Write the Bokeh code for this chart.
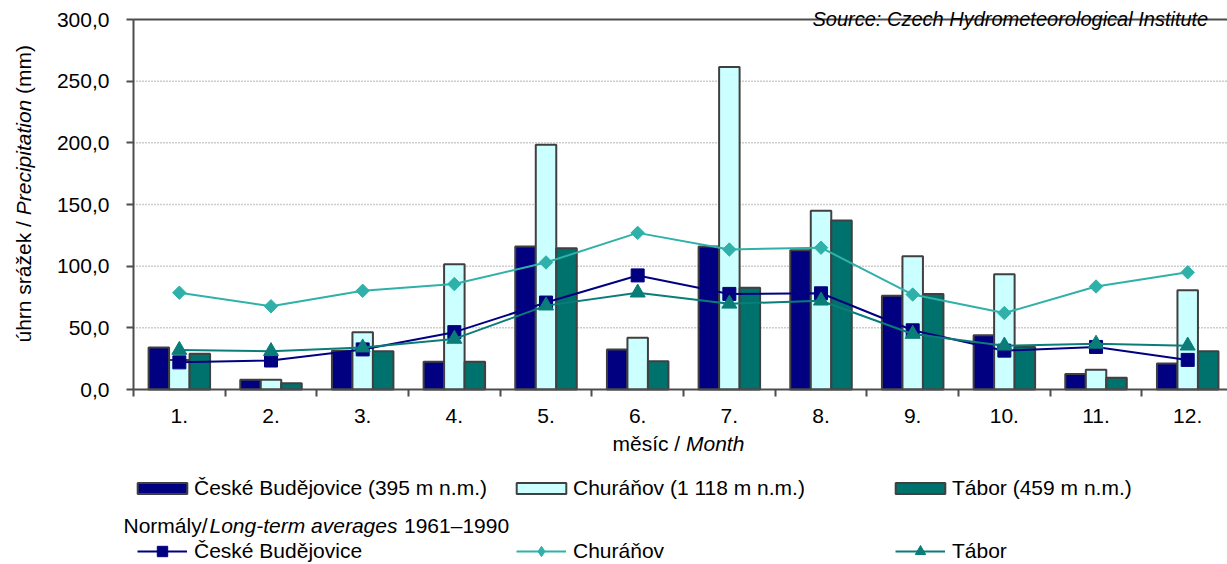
import math
from bokeh.plotting import figure
from bokeh.models import (Range1d, FixedTicker, Legend, LegendItem, Label, ColumnDataSource)
from bokeh.transform import dodge
from bokeh.embed import file_html
from bokeh.resources import INLINE

# ---------------- data ----------------
months = [1, 2, 3, 4, 5, 6, 7, 8, 9, 10, 11, 12]
month_labels = ["1.", "2.", "3.", "4.", "5.", "6.", "7.", "8.", "9.", "10.", "11.", "12."]
y_ticks = [0, 50, 100, 150, 200, 250, 300]
y_tick_labels = ["0,0", "50,0", "100,0", "150,0", "200,0", "250,0", "300,0"]

# monthly precipitation (mm) - bars
budejovice = [34, 8, 31.5, 22.5, 116, 32.5, 116, 113, 76, 44, 12.5, 21]
churanov = [24, 8, 46.5, 101.5, 198.5, 42, 261.5, 145, 108, 93.5, 16, 80.5]
tabor = [29, 5, 31, 22.5, 114.5, 23, 82.5, 137, 77.5, 34.5, 9.5, 31]

# long-term averages 1961-1990 - lines
budejovice_norm = [22, 23.5, 32.5, 46.5, 70.5, 92.5, 77.5, 78, 48, 31.5, 34.5, 24]
churanov_norm = [78.5, 67.5, 80, 85.5, 103, 127, 113.5, 115, 77, 62, 83.5, 95]
tabor_norm = [32, 31, 34, 41, 68, 78.5, 69.5, 72, 45, 35.5, 37, 35.5]

bar_names = ["České Budějovice (395 m n.m.)", "Churáňov (1 118 m n.m.)", "Tábor (459 m n.m.)"]
line_names = ["České Budějovice", "Churáňov", "Tábor"]

# ---------------- styles / layout ----------------
FONT = "Liberation Sans"
FS = "21px"
C_CB = "#000080"
C_CH_BAR = "#CCFFFF"
C_TA_BAR = "#00726D"
C_CH_LINE = "#2FB1A9"
C_TA_LINE = "#0A7D78"
EDGE = "#404040"
AXIS = "#4d4d4d"

W, H = 1227, 564
PLOT_L, PLOT_T, PLOT_B = 133, 19, 389      # plot area in page pixels
CAT_PX = 91.67                              # pixels per month
Y_PX = (PLOT_B - PLOT_T) / 300.0            # pixels per mm
x_start = 0.5 - PLOT_L / CAT_PX
x_end = 0.5 + (W - PLOT_L) / CAT_PX
y_start = -(H - PLOT_B) / Y_PX
y_end = 300 + PLOT_T / Y_PX


def dx(px):
    return 0.5 + (px - PLOT_L) / CAT_PX


def dy(py):
    return (PLOT_B - py) / Y_PX


p = figure(width=W, height=H, x_range=Range1d(x_start, x_end), y_range=Range1d(y_start, y_end),
           output_backend="svg", toolbar_location=None,
           min_border_left=0, min_border_right=0, min_border_top=0, min_border_bottom=0,
           outline_line_color=None, background_fill_color="white", border_fill_color="white")

# axes pinned to the plot area
p.xaxis.fixed_location = 0
p.xaxis.bounds = (0.5, x_end)
p.xaxis.ticker = FixedTicker(ticks=months, minor_ticks=[m + 0.5 for m in range(0, 13)])
p.xaxis.major_label_overrides = {m: lab for m, lab in zip(months, month_labels)}
p.xaxis.major_tick_out = 0
p.xaxis.major_tick_in = 0
p.xaxis.minor_tick_out = 7
p.xaxis.minor_tick_in = 0
p.xaxis.minor_tick_line_color = AXIS
p.xaxis.minor_tick_line_width = 2
p.xaxis.axis_line_color = AXIS
p.xaxis.axis_line_width = 2
p.xaxis.major_label_standoff = 12

p.yaxis.fixed_location = 0.5
p.yaxis.bounds = (0, 300)
p.yaxis.ticker = FixedTicker(ticks=y_ticks)
p.yaxis.major_label_overrides = {t: lab for t, lab in zip(y_ticks, y_tick_labels)}
p.yaxis.major_tick_out = 7
p.yaxis.major_tick_in = 0
p.yaxis.major_tick_line_color = AXIS
p.yaxis.major_tick_line_width = 2
p.yaxis.minor_tick_line_color = None
p.yaxis.axis_line_color = AXIS
p.yaxis.axis_line_width = 2
p.yaxis.major_label_standoff = 17

for ax in (p.xaxis, p.yaxis):
    ax.major_label_text_font = FONT
    ax.major_label_text_font_size = FS
    ax.major_label_text_color = "black"

p.xgrid.visible = False
p.ygrid.visible = False

# dotted gridlines and the solid top border of the plot area
grid_src = ColumnDataSource(dict(y=y_ticks[1:-1]))
p.segment(x0=0.5, x1=x_end, y0="y", y1="y", source=grid_src,
          line_color="#9a9a9a", line_dash="1 2", line_width=1.5)
p.segment(x0=[0.5], x1=[x_end], y0=[y_ticks[-1]], y1=[y_ticks[-1]],
          line_color=AXIS, line_width=2)

# bars
src = ColumnDataSource(dict(month=months, cb=budejovice, ch=churanov, ta=tabor,
                            cbn=budejovice_norm, chn=churanov_norm, tan=tabor_norm))
bw = 0.2236
r_cb = p.vbar(x=dodge("month", -bw, range=p.x_range), top="cb", width=bw, source=src,
              fill_color=C_CB, line_color=EDGE, line_width=2)
r_ch = p.vbar(x="month", top="ch", width=bw, source=src,
              fill_color=C_CH_BAR, line_color=EDGE, line_width=2)
r_ta = p.vbar(x=dodge("month", bw, range=p.x_range), top="ta", width=bw, source=src,
              fill_color=C_TA_BAR, line_color=EDGE, line_width=2)

# lines of long-term averages
l_ch = p.line("month", "chn", source=src, line_color=C_CH_LINE, line_width=2)
m_ch = p.scatter("month", "chn", source=src, marker="square", angle=math.pi / 4, size=9.5,
                 fill_color=C_CH_LINE, line_color=C_CH_LINE)
l_cb = p.line("month", "cbn", source=src, line_color=C_CB, line_width=2)
m_cb = p.scatter("month", "cbn", source=src, marker="square", size=13,
                 fill_color=C_CB, line_color=C_CB)
l_ta = p.line("month", "tan", source=src, line_color=C_TA_LINE, line_width=2)
m_ta = p.scatter("month", "tan", source=src, marker="triangle", size=15,
                 fill_color=C_TA_LINE, line_color=C_TA_LINE)
# legend-only diamond (kept outside the visible range)
m_ch_leg = p.scatter(x=[-10], y=[-1000], marker="diamond", size=12,
                     fill_color=C_CH_LINE, line_color=C_CH_LINE)

leg_common = dict(orientation="horizontal", spacing=0, padding=0, margin=0,
                  border_line_color=None, background_fill_alpha=0,
                  label_text_font=FONT, label_text_font_size=FS, label_text_color="black")

leg1 = Legend(items=[LegendItem(label=bar_names[0], renderers=[r_cb]),
                     LegendItem(label=bar_names[1], renderers=[r_ch]),
                     LegendItem(label=bar_names[2], renderers=[r_ta])],
              location=(131, 64), glyph_width=62, glyph_height=14,
              label_standoff=1, label_width=316, **leg_common)
leg2 = Legend(items=[LegendItem(label=line_names[0], renderers=[l_cb, m_cb]),
                     LegendItem(label=line_names[1], renderers=[l_ch, m_ch_leg]),
                     LegendItem(label=line_names[2], renderers=[l_ta, m_ta])],
              location=(137, 0), glyph_width=50, glyph_height=26,
              label_standoff=7, label_width=322, **leg_common)
p.add_layout(leg1, "center")
p.add_layout(leg2, "center")


# texts
def txt(text, px, py, italic=False, angle=0.0, baseline="middle", size=FS):
    p.add_layout(Label(x=dx(px), y=dy(py), text=text, text_font=FONT, text_font_size=size,
                       text_font_style="italic" if italic else "normal",
                       text_align="left", text_baseline=baseline, angle=angle,
                       text_color="black"))


em = 21.0
# y axis title (rotated)
txt("úhrn srážek /", 23, 342, angle=math.pi / 2)
txt("Precipitation", 23, 342 - 6.058 * em, italic=True, angle=math.pi / 2)
txt("(mm)", 23, 342 - (6.058 + 5.502 + 0.278) * em, angle=math.pi / 2)
# x axis title
txt("měsíc /", 612, 443)
txt("Month", 612 + 3.501 * em, 443, italic=True)
# normals header
txt("Normály/", 123, 525)
txt("Long-term averages", 123 + 4.0 * em + 2, 525, italic=True)
txt("1961–1990", 123 + (4.0 + 8.888 + 0.278) * em + 4, 525)
# source
txt("Source: Czech Hydrometeorological Institute", 812, 18, italic=True,
    baseline="alphabetic", size="20px")

open("out.html", "w").write(file_html(p, INLINE))
